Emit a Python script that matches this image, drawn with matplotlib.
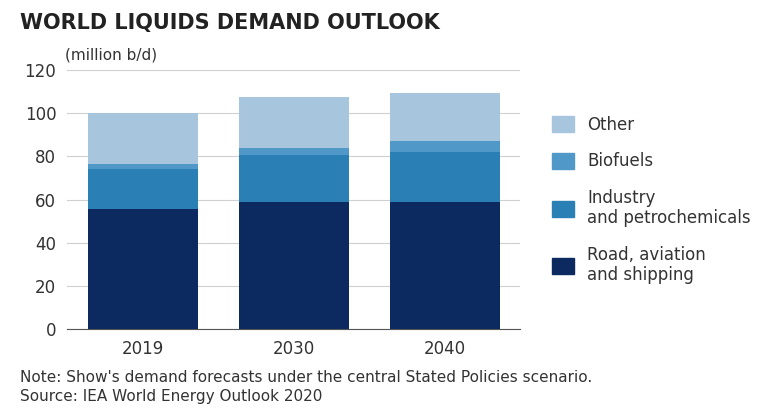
import matplotlib.pyplot as plt
from matplotlib.patches import Patch

years = ["2019", "2030", "2040"]
road = [55.5, 59, 59]
industry = [18.5, 21.5, 23]
biofuels = [2.5, 3.5, 5]
other = [23.5, 23.5, 22.5]

colors = {"road": "#0c2a5f", "industry": "#2a80b4", "bio": "#5098c7", "other": "#a7c6de"}

fig = plt.figure(figsize=(7.57, 4.17), dpi=100)
ax = fig.add_axes([0.089, 0.211, 0.598, 0.621])

x = range(len(years))
w = 0.73
b1 = road
b2 = [a + b for a, b in zip(b1, industry)]
b3 = [a + b for a, b in zip(b2, biofuels)]
ax.bar(x, road, w, color=colors["road"], zorder=3)
ax.bar(x, industry, w, bottom=b1, color=colors["industry"], zorder=3)
ax.bar(x, biofuels, w, bottom=b2, color=colors["bio"], zorder=3)
ax.bar(x, other, w, bottom=b3, color=colors["other"], zorder=3)

ax.set_xlim(-0.5, 2.5)
ax.set_ylim(0, 120)
ax.set_yticks(range(0, 121, 20))
ax.set_xticks(list(x))
ax.set_xticklabels(years)
ax.grid(axis="y", color="#d0d0d0", linewidth=0.8, zorder=0)
for s in ["top", "right", "left"]:
    ax.spines[s].set_visible(False)
ax.spines["bottom"].set_color("#555555")
ax.tick_params(length=0, labelsize=12, colors="#333333", pad=8)

handles = [Patch(color=colors["other"], label="Other"),
           Patch(color=colors["bio"], label="Biofuels"),
           Patch(color=colors["industry"], label="Industry\nand petrochemicals"),
           Patch(color=colors["road"], label="Road, aviation\nand shipping")]
fig.legend(handles=handles, loc="center left", bbox_to_anchor=(0.71, 0.52),
           frameon=False, fontsize=12, handlelength=1.3, handleheight=1.1,
           labelspacing=1.1, labelcolor="#333333")

fig.text(0.026, 0.945, "WORLD LIQUIDS DEMAND OUTLOOK", fontsize=15, fontweight="bold",
         color="#222222", va="center")
fig.text(0.086, 0.868, "(million b/d)", fontsize=11, color="#333333", va="center")
fig.text(0.026, 0.095, "Note: Show's demand forecasts under the central Stated Policies scenario.",
         fontsize=11, color="#333333", va="center")
fig.text(0.026, 0.05, "Source: IEA World Energy Outlook 2020", fontsize=11, color="#333333", va="center")

fig.savefig("out.png", dpi=100)
